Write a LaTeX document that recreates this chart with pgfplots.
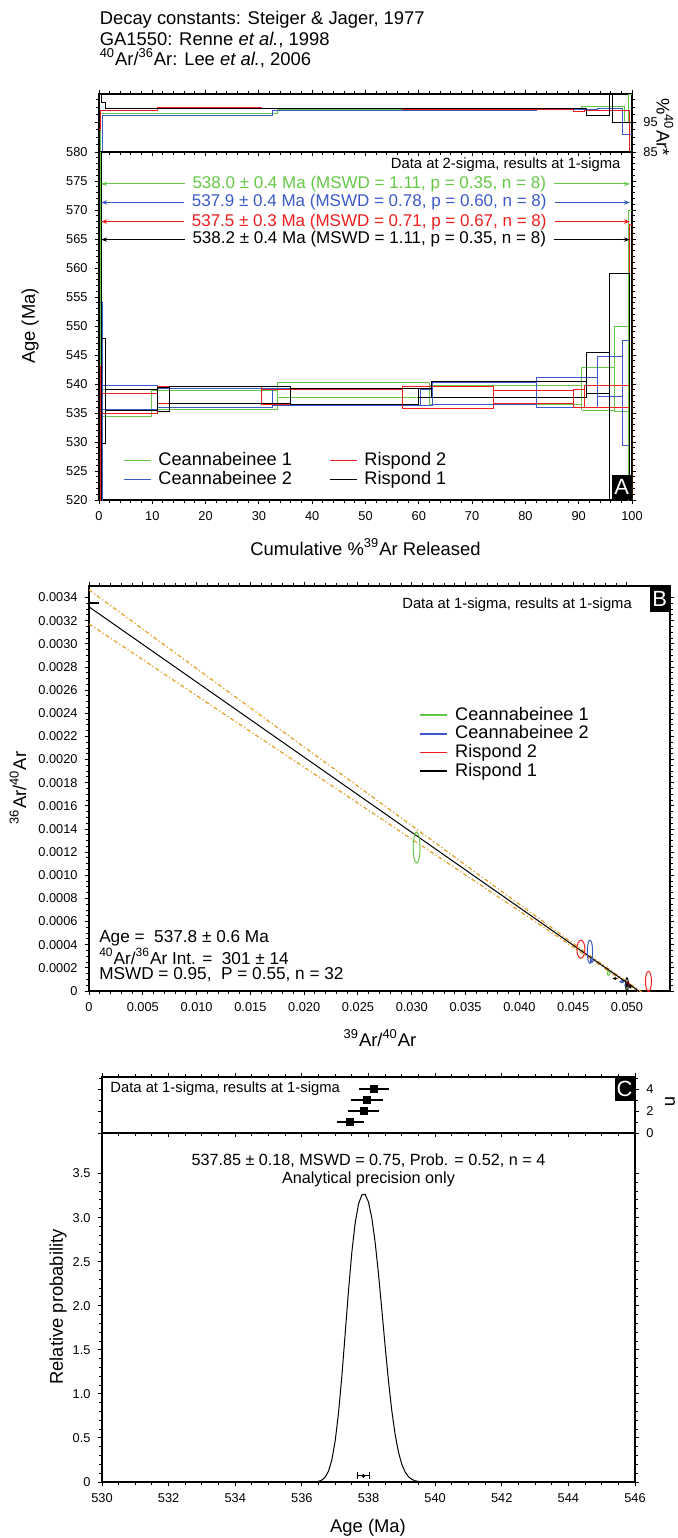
\documentclass[border=0pt]{standalone}
\usepackage{fontspec}
\setmainfont{Liberation Sans}
\usepackage{pgfplots}
\pgfplotsset{compat=1.18}
\usetikzlibrary{arrows.meta}

\definecolor{cgreen}{RGB}{100,200,70}
\definecolor{cblue}{RGB}{60,90,200}
\definecolor{cred}{RGB}{240,30,30}
\definecolor{corange}{RGB}{225,160,40}

\newcommand{\tfont}{\fontsize{6.4}{7}\selectfont}
\newcommand{\lfont}{\fontsize{9.2}{11}\selectfont}
\def\ellrx{1}\def\ellry{1}
\pgfdeclareplotmark{ellmark}{\pgfpathellipse{\pgfpointorigin}{\pgfqpoint{\ellrx pt}{0pt}}{\pgfqpoint{0pt}{\ellry pt}}\pgfusepathqstroke}

\pgfplotsset{
  every axis/.append style={
    scale only axis,
    axis line style={line width=0.6pt},
    every tick/.style={line width=0.5pt, black},
    tick align=outside,
    major tick length=2.2pt,
    minor tick length=1.3pt,
    tick label style={font=\tfont},
    /pgf/number format/assume math mode=true,
    scaled ticks=false,
  },
}

\begin{document}
\begin{tikzpicture}
\useasboundingbox (0,0) rectangle (339pt,-769pt);

% header
\node[anchor=base west, font=\lfont, inner sep=0pt] at (49.7pt,-12pt) {Decay constants: Steiger \& Jager, 1977};
\node[anchor=base west, font=\lfont, inner sep=0pt] at (49.7pt,-22.75pt) {GA1550: Renne \textit{et al.}, 1998};
\node[anchor=base west, font=\lfont, inner sep=0pt] at (49.7pt,-32.5pt) {\textsuperscript{40}Ar/\textsuperscript{36}Ar: Lee \textit{et al.}, 2006};

% ---------------- Panel A top (%40Ar*) ----------------
\begin{axis}[at={(49.5pt,-47pt)}, anchor=north west, width=266.5pt, height=29pt,
  xmin=0, xmax=100, ymin=85, ymax=104.5,
  xtick={0,10,...,100}, minor x tick num=4, xticklabels={,,,,,,,,,,,,}, xtick pos=both,
  ytick={85,95}, minor ytick={87.5,90,92.5,97.5,100,102.5}, yticklabel pos=right, ytick pos=both]
\addplot[cgreen, const plot, line width=0.5pt] coordinates {(0,80)(0.3,97.9)(9.8,98.0)(33.4,99.4)(62,99.4)(90.6,100.2)(96.8,100.2)(98.6,95.0)(99.4,104.5)(100,104.5)};
\addplot[cblue, const plot, line width=0.5pt] coordinates {(0,80)(0.6,97.4)(32.6,99.1)(62.5,99.0)(82,99.3)(93.5,99.6)(98.2,91.0)(100,91.0)};
\addplot[cred, const plot, line width=0.5pt] coordinates {(0,92.5)(0.3,98.9)(11,99.8)(30.5,99.5)(56.9,99.4)(74,99.4)(89,98.7)(91,98.8)(99.5,80)(100,80)};
\addplot[black, const plot, line width=0.5pt] coordinates {(0,104.5)(0.4,101.8)(1.3,99.5)(13.3,99.6)(60,99.5)(91.5,97.3)(95.7,104.5)(96.3,95.0)(100,95.0)};
\end{axis}

% ---------------- Panel A main ----------------
\begin{axis}[at={(49.5pt,-76pt)}, anchor=north west, width=266.5pt, height=174pt,
  xmin=0, xmax=100, ymin=520, ymax=580,
  xtick={0,10,...,100}, minor x tick num=4, xtick pos=bottom,
  ytick={520,525,...,580}, minor y tick num=4, ytick pos=both, yticklabel pos=left,
  unbounded coords=jump,
  legend columns=2, legend cell align=left,
  legend style={draw=none, fill=none, at={(0.045,0.142)}, anchor=north west, inner sep=0pt,
    font=\fontsize{9.1}{9.5}\selectfont, nodes={inner sep=0.7pt},
    /tikz/every odd column/.append style={column sep=2.5pt},
    /tikz/every even column/.append style={column sep=18pt}},
  legend image code/.code={\draw[line width=0.8pt,#1] (0pt,0pt) -- (13.5pt,0pt);}]
\addlegendimage{cgreen}\addlegendentry{Ceannabeinee 1}
\addlegendimage{cred}\addlegendentry{Rispond 2}
\addlegendimage{cblue}\addlegendentry{Ceannabeinee 2}
\addlegendimage{black}\addlegendentry{Rispond 1}

\addplot[cgreen, line width=0.5pt, forget plot] coordinates {
(0,480)(0,620)(0.3,620)(0.3,480)(0,480)(nan,nan)
(0.3,534.4)(0.3,539.0)(9.8,539.0)(9.8,534.4)(0.3,534.4)(nan,nan)
(9.8,535.6)(9.8,538.9)(33.4,538.9)(33.4,535.6)(9.8,535.6)(nan,nan)
(33.4,537.6)(33.4,540.3)(62,540.3)(62,537.6)(33.4,537.6)(nan,nan)
(62,536.4)(62,539.7)(90.6,539.7)(90.6,536.4)(62,536.4)(nan,nan)
(90.6,535.5)(90.6,542.8)(96.8,542.8)(96.8,535.5)(90.6,535.5)(nan,nan)
(96.8,535.2)(96.8,550)(99.3,550)(99.3,535.2)(96.8,535.2)(nan,nan)
(99.3,480)(99.3,570)(100,570)(100,480)(99.3,480)};
\addplot[cblue, line width=0.5pt, forget plot] coordinates {
(0,480)(0,554)(0.6,554)(0.6,480)(0,480)(nan,nan)
(0.6,535.6)(0.6,539.8)(11,539.8)(11,535.6)(0.6,535.6)(nan,nan)
(11,535.9)(11,539.3)(32.6,539.3)(32.6,535.9)(11,535.9)(nan,nan)
(32.6,536.3)(32.6,539.3)(60.4,539.3)(60.4,536.3)(32.6,536.3)(nan,nan)
(60.4,536.3)(60.4,539.1)(62.5,539.1)(62.5,536.3)(60.4,536.3)(nan,nan)
(62.5,536.5)(62.5,540.3)(82,540.3)(82,536.5)(62.5,536.5)(nan,nan)
(82,536.0)(82,541.2)(93.5,541.2)(93.5,536.0)(82,536.0)(nan,nan)
(93.5,537.8)(93.5,544.7)(98.2,544.7)(98.2,537.8)(93.5,537.8)(nan,nan)
(98.2,529.4)(98.2,547.5)(99.5,547.5)(99.5,529.4)(98.2,529.4)};
\addplot[cred, line width=0.5pt, forget plot] coordinates {
(0,480)(0,543)(0.3,543)(0.3,480)(0,480)(nan,nan)
(0.3,535.0)(0.3,538.3)(11,538.3)(11,535.0)(0.3,535.0)(nan,nan)
(11,536.6)(11,539.5)(30.5,539.5)(30.5,536.6)(11,536.6)(nan,nan)
(30.5,536.4)(30.5,539.0)(56.9,539.0)(56.9,536.4)(30.5,536.4)(nan,nan)
(56.9,535.7)(56.9,539.5)(74,539.5)(74,535.7)(56.9,535.7)(nan,nan)
(74,536.6)(74,538.8)(89,538.8)(89,536.6)(74,536.6)(nan,nan)
(89,535.9)(89,539.0)(91,539.0)(91,535.9)(89,535.9)(nan,nan)
(91,535.9)(91,539.7)(99.5,539.7)(99.5,535.9)(91,535.9)(nan,nan)
(99.5,480)(99.5,567.5)(100,567.5)(100,480)(99.5,480)};
\addplot[black, line width=0.5pt, forget plot] coordinates {
(0,480)(0,620)(0.4,620)(0.4,480)(0,480)(nan,nan)
(0.4,529.7)(0.4,547.9)(1.3,547.9)(1.3,529.7)(0.4,529.7)(nan,nan)
(1.3,535.5)(1.3,539.0)(11,539.0)(11,535.5)(1.3,535.5)(nan,nan)
(11,535.3)(11,539.4)(13.3,539.4)(13.3,535.3)(11,535.3)(nan,nan)
(13.3,536.7)(13.3,539.5)(35.9,539.5)(35.9,536.7)(13.3,536.7)(nan,nan)
(35.9,536.5)(35.9,539.3)(60,539.3)(60,536.5)(35.9,536.5)(nan,nan)
(60,537.7)(60,539.3)(62.3,539.3)(62.3,537.7)(60,537.7)(nan,nan)
(62.3,537.6)(62.3,540.4)(91.5,540.4)(91.5,537.6)(62.3,537.6)(nan,nan)
(91.5,538.3)(91.5,545.5)(95.7,545.5)(95.7,538.3)(91.5,538.3)(nan,nan)
(95.7,480)(95.7,559)(99.6,559)(99.6,480)(95.7,480)};

% plateau arrows
\addplot[cgreen, line width=0.5pt, forget plot, arrows={Stealth[length=3pt,width=2.2pt]-Stealth[length=3pt,width=2.2pt]}] coordinates {(0.4,574.5)(99.6,574.5)};
\addplot[cblue, line width=0.5pt, forget plot, arrows={Stealth[length=3pt,width=2.2pt]-Stealth[length=3pt,width=2.2pt]}] coordinates {(0.4,571.3)(99.6,571.3)};
\addplot[cred, line width=0.5pt, forget plot, arrows={Stealth[length=3pt,width=2.2pt]-Stealth[length=3pt,width=2.2pt]}] coordinates {(0.4,568.0)(99.6,568.0)};
\addplot[black, line width=0.5pt, forget plot, arrows={Stealth[length=3pt,width=2.2pt]-Stealth[length=3pt,width=2.2pt]}] coordinates {(0.4,564.9)(99.6,564.9)};

\node[fill=white, text=cgreen, inner xsep=4pt, inner ysep=0pt, font=\fontsize{8.5}{9}\selectfont] at (axis cs:50.7,574.5) {538.0 ± 0.4 Ma (MSWD = 1.11, p = 0.35, n = 8)};
\node[fill=white, text=cblue, inner xsep=4pt, inner ysep=0pt, font=\fontsize{8.5}{9}\selectfont] at (axis cs:50.7,571.3) {537.9 ± 0.4 Ma (MSWD = 0.78, p = 0.60, n = 8)};
\node[fill=white, text=cred, inner xsep=4pt, inner ysep=0pt, font=\fontsize{8.5}{9}\selectfont] at (axis cs:50.7,568.0) {537.5 ± 0.3 Ma (MSWD = 0.71, p = 0.67, n = 8)};
\node[fill=white, text=black, inner xsep=4pt, inner ysep=0pt, font=\fontsize{8.5}{9}\selectfont] at (axis cs:50.7,564.9) {538.2 ± 0.4 Ma (MSWD = 1.11, p = 0.35, n = 8)};
\node[anchor=east, font=\fontsize{7.4}{8}\selectfont, inner sep=0pt] at (rel axis cs:0.979,0.963) {Data at 2-sigma, results at 1-sigma};
\node[fill=black, text=white, anchor=south east, minimum width=10pt, minimum height=12.5pt, inner sep=0pt, font=\fontsize{11}{11}\selectfont] at (rel axis cs:1,0) {A};
\end{axis}

% ---------------- Panel B ----------------
\begin{axis}[at={(44.5pt,-293pt)}, anchor=north west, width=290.5pt, height=202.5pt,
  xmin=0, xmax=0.054, ymin=0, ymax=0.0035,
  xtick={0,0.005,0.01,0.015,0.02,0.025,0.03,0.035,0.04,0.045,0.05},
  xticklabels={0,0.005,0.010,0.015,0.020,0.025,0.030,0.035,0.040,0.045,0.050},
  minor x tick num=4, xtick pos=both,
  ytick={0,0.0002,0.0004,0.0006,0.0008,0.0010,0.0012,0.0014,0.0016,0.0018,0.0020,0.0022,0.0024,0.0026,0.0028,0.0030,0.0032,0.0034},
  yticklabels={0,0.0002,0.0004,0.0006,0.0008,0.0010,0.0012,0.0014,0.0016,0.0018,0.0020,0.0022,0.0024,0.0026,0.0028,0.0030,0.0032,0.0034},
  minor y tick num=3, ytick pos=both,
  legend cell align=left,
  legend style={draw=none, fill=none, at={(0.568,0.705)}, anchor=north west, inner sep=0pt,
    font=\fontsize{9.1}{9.5}\selectfont, nodes={inner sep=0.6pt},
    /tikz/every odd column/.append style={column sep=3pt}},
  legend image code/.code={\draw[line width=0.8pt,#1] (0pt,0pt) -- (13.5pt,0pt);}]
\addlegendimage{cgreen}\addlegendentry{Ceannabeinee 1}
\addlegendimage{cblue}\addlegendentry{Ceannabeinee 2}
\addlegendimage{cred}\addlegendentry{Rispond 2}
\addlegendimage{black}\addlegendentry{Rispond 1}

\addplot[corange, line width=0.6pt, dash pattern=on 2pt off 1.2pt on 0.6pt off 1.2pt, forget plot] coordinates {
(0,0.003467)(0.005,0.003127)(0.010,0.002787)(0.015,0.002447)(0.020,0.002108)(0.025,0.001769)(0.030,0.001429)(0.035,0.001089)(0.040,0.000750)(0.045,0.000412)(0.048,0.000211)(0.050,0.000081)(0.052,-0.0000507)};
\addplot[corange, line width=0.6pt, dash pattern=on 2pt off 1.2pt on 0.6pt off 1.2pt, forget plot] coordinates {
(0,0.003173)(0.005,0.002863)(0.010,0.002553)(0.015,0.002243)(0.020,0.001934)(0.025,0.001623)(0.030,0.001313)(0.035,0.001003)(0.040,0.000692)(0.045,0.000380)(0.048,0.000191)(0.050,0.000061)(0.052,-0.000078)};
\addplot[black, line width=0.5pt, forget plot] coordinates {(0,0.00332)(0.0511,0)};
\addplot[black, line width=1pt, forget plot] coordinates {(0,0.003355)(0.0009,0.003355)};

\addplot[cgreen, line width=0.5pt, only marks, scatter, mark=ellmark, forget plot,
  scatter/@pre marker code/.code={}, scatter/@post marker code/.code={},
  visualization depends on={value \thisrow{rx}\as\ellrx},
  visualization depends on={value \thisrow{ry}\as\ellry}] table[x=x, y=y] {
x y rx ry
0.03045 0.00124 1.7 7.75
0.04828 0.000153 0.6 1.0
0.0500 0.00004 0.5 0.8
};
\addplot[cblue, line width=0.5pt, only marks, scatter, mark=ellmark, forget plot,
  scatter/@pre marker code/.code={}, scatter/@post marker code/.code={},
  visualization depends on={value \thisrow{rx}\as\ellrx},
  visualization depends on={value \thisrow{ry}\as\ellry}] table[x=x, y=y] {
x y rx ry
0.04656 0.000339 1.35 5.8
0.04672 0.000264 0.7 1.0
0.04953 0.00008 0.9 0.5
0.0499 0.00005 0.5 0.9
};
\addplot[cred, line width=0.5pt, only marks, scatter, mark=ellmark, forget plot,
  scatter/@pre marker code/.code={}, scatter/@post marker code/.code={},
  visualization depends on={value \thisrow{rx}\as\ellrx},
  visualization depends on={value \thisrow{ry}\as\ellry}] table[x=x, y=y] {
x y rx ry
0.04572 0.000361 2.0 4.5
0.0520 0.0000833 1.5 5.0
0.0501 0.00006 0.6 1.2
};
\addplot[black, line width=0.5pt, only marks, scatter, mark=ellmark, forget plot,
  scatter/@pre marker code/.code={}, scatter/@post marker code/.code={},
  visualization depends on={value \thisrow{rx}\as\ellrx},
  visualization depends on={value \thisrow{ry}\as\ellry}] table[x=x, y=y] {
x y rx ry
0.0489 0.000108 0.7 0.4
0.0500 0.00008 0.6 2.0
0.0500 0.00003 0.6 1.5
0.0503 0.00004 0.4 0.8
};

\node[anchor=east, font=\fontsize{7.4}{8}\selectfont, inner sep=0pt] at (rel axis cs:0.935,0.954) {Data at 1-sigma, results at 1-sigma};
\node[fill=black, text=white, anchor=north east, minimum width=10pt, minimum height=13pt, inner sep=0pt, font=\fontsize{11}{11}\selectfont] at (rel axis cs:1,1) {B};
\node[anchor=west, font=\fontsize{8.6}{9}\selectfont, inner sep=0pt] at (rel axis cs:0.017,0.129) {Age =\ \ 537.8 ± 0.6 Ma};
\node[anchor=west, font=\fontsize{8.6}{9}\selectfont, inner sep=0pt] at (rel axis cs:0.017,0.085) {\textsuperscript{40}Ar/\textsuperscript{36}Ar Int. =\ \ 301 ± 14};
\node[anchor=west, font=\fontsize{8.6}{9}\selectfont, inner sep=0pt] at (rel axis cs:0.017,0.041) {MSWD = 0.95,\ \ P = 0.55, n = 32};
\end{axis}

% ---------------- Panel C top ----------------
\begin{axis}[at={(51pt,-538.5pt)}, anchor=north west, width=266.5pt, height=28pt,
  xmin=530, xmax=546, ymin=0, ymax=5.1,
  xtick={530,532,...,546}, minor x tick num=3, xticklabels={,,,,,,,,,,}, xtick pos=both,
  ytick={0,2,4}, minor ytick={1,3,5}, yticklabel pos=right, ytick pos=both]
\addplot[black, only marks, mark=square*, mark size=1.7pt,
  error bars/.cd, x dir=both, x explicit, error mark=none, error bar style={line width=0.6pt}]
  coordinates {(537.45,1) +- (0.41,0) (537.85,2) +- (0.48,0) (537.96,3) +- (0.48,0) (538.17,4) +- (0.45,0)};
\node[anchor=west, font=\fontsize{7.4}{8}\selectfont, inner sep=0pt] at (rel axis cs:0.015,0.80) {Data at 1-sigma, results at 1-sigma};
\node[fill=black, text=white, anchor=north east, minimum width=10pt, minimum height=12pt, inner sep=0pt, font=\fontsize{11}{11}\selectfont] at (rel axis cs:1,1) {C};
\end{axis}

% ---------------- Panel C main ----------------
\begin{axis}[at={(51pt,-566.5pt)}, anchor=north west, width=266.5pt, height=174.5pt,
  xmin=530, xmax=546, ymin=0, ymax=3.96,
  xtick={530,532,...,546}, minor x tick num=3, xtick pos=bottom,
  ytick={0,0.5,1,1.5,2,2.5,3,3.5}, yticklabels={0,0.5,1.0,1.5,2.0,2.5,3.0,3.5},
  minor y tick num=4, ytick pos=both, yticklabel pos=left]
\addplot[black, line width=0.5pt] coordinates {
(530,0)(536.0,0)(536.4,0.0029)(536.5,0.0083)(536.6,0.0224)(536.7,0.0550)(536.8,0.1234)(536.9,0.2516)(537.0,0.4660)(537.1,0.7838)(537.2,1.2011)(537.3,1.6838)(537.4,2.1733)(537.5,2.6070)(537.6,2.9394)(537.7,3.1544)(537.8,3.2584)(537.9,3.2636)(538.0,3.1760)(538.1,2.9936)(538.2,2.7178)(538.3,2.3624)(538.4,1.9565)(538.5,1.5384)(538.6,1.1461)(538.7,0.8078)(538.8,0.5384)(538.9,0.3389)(539.0,0.2016)(539.1,0.1132)(539.2,0.0600)(539.3,0.0300)(539.4,0.0141)(539.5,0.0063)(539.6,0.0026)(539.8,0.0004)(540.2,0)(546,0)};
\addplot[black, mark=*, mark size=0.7pt, error bars/.cd, x dir=both, x explicit, error mark=|, error bar style={line width=0.5pt}, error mark options={black, mark size=1.8pt, line width=0.5pt}]
  coordinates {(537.85,0.07) +- (0.18,0)};
\node[font=\fontsize{8.1}{9}\selectfont, inner sep=0pt] at (rel axis cs:0.5,0.92) {537.85 ± 0.18, MSWD = 0.75, Prob. = 0.52, n = 4};
\node[font=\fontsize{8.1}{9}\selectfont, inner sep=0pt] at (rel axis cs:0.5,0.868) {Analytical precision only};
\end{axis}

% axis labels
\node[font=\lfont] at (182.75pt,-273.5pt) {Cumulative \%\textsuperscript{39}Ar Released};
\node[font=\lfont, rotate=90] at (15pt,-163pt) {Age (Ma)};
\node[font=\lfont, rotate=-90] at (332.5pt,-63.5pt) {\%\textsuperscript{40}Ar*};
\node[font=\lfont] at (190pt,-519pt) {\textsuperscript{39}Ar/\textsuperscript{40}Ar};
\node[font=\lfont, rotate=90] at (9pt,-394pt) {\textsuperscript{36}Ar/\textsuperscript{40}Ar};
\node[font=\lfont] at (184pt,-764pt) {Age (Ma)};
\node[font=\lfont, rotate=90] at (29pt,-653.5pt) {Relative probability};
\node[font=\lfont, rotate=-90] at (335pt,-551pt) {n};
\end{tikzpicture}
\end{document}
